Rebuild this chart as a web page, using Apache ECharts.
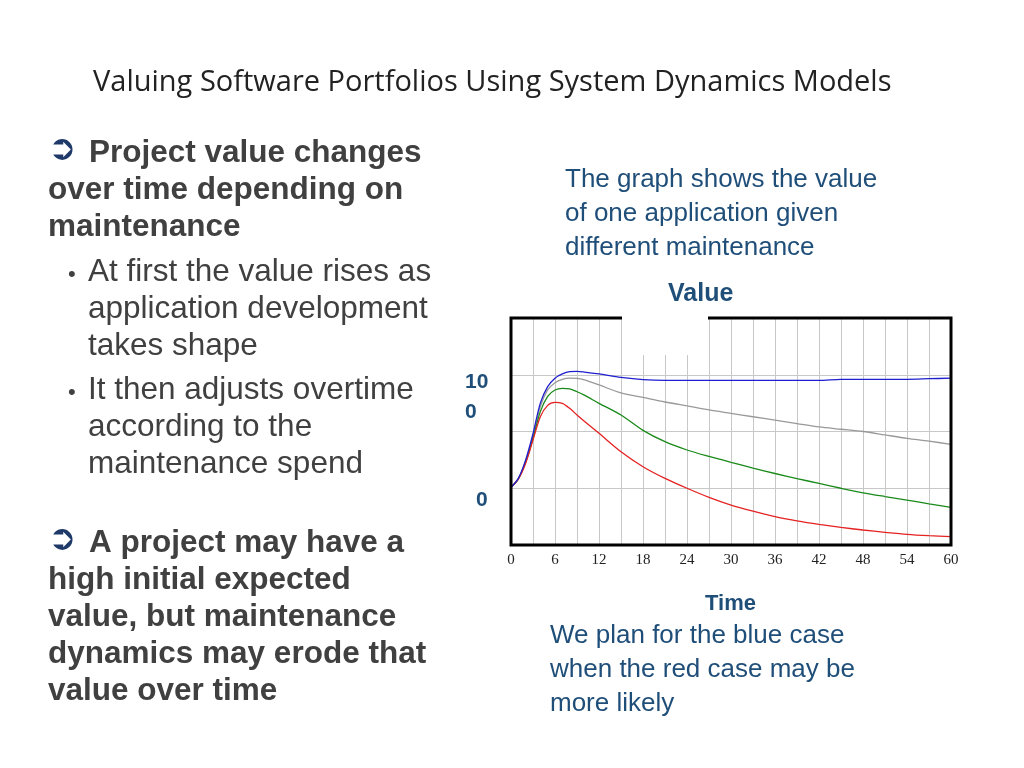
<!DOCTYPE html>
<html>
<head>
<meta charset="utf-8">
<script src="https://cdn.jsdelivr.net/npm/echarts@6/dist/echarts.min.js"></script>
<style>html,body{margin:0;padding:0;background:#fff}#c{width:1024px;height:768px}</style>
</head>
<body>
<div id="c"></div>
<script>
// time (months) and value readings
const times = [0,1,2,3,4,5,6,7,8,9,10,12,15,18,21,24,27,30,33,36,39,42,45,48,51,54,57,60];
const blueVals  = [50.8,58.7,75,98,125,139.5,147,150.7,152.7,153,152.4,150.7,147.7,145.7,145,145,145,145,145,145,145,145,146,146,146,146,146.5,147];
const grayVals  = [50.8,58.5,74,95.5,122,136.6,143,146,147,146.8,145.5,141,134,130,126,122.5,119,116,113,110,107,104,102,100,97,94,91.5,88.7];
const greenVals = [50.8,58.3,73,94,117.5,131,136.6,138,137.5,135,132,124.8,114.5,101,91,83.7,78,72.8,67.8,63,58.5,54.3,50,46,42.7,39.6,36.3,33.2];
const redVals   = [50.8,58,72,92.5,113,123,125.7,124.8,120.4,114.5,109,98.4,82.2,69,58.7,50,42,35.2,29.8,25,21.3,18.2,15.5,13.2,11.2,9.4,8.2,7.3];

const pair = v => times.map((t, i) => [t, v[i]]);
const mk = (name, color, v) => ({
  name, type: 'line', data: pair(v), smooth: 0.3, showSymbol: false,
  lineStyle: { color, width: 1.3 }, itemStyle: { color }
});

const chart = echarts.init(document.getElementById('c'));
const txt = (x, y, text, style) => ({ type: 'text', left: x, top: y, style: Object.assign({ text }, style) });
const bodyFont = { fontFamily: 'Liberation Sans, Arial', fill: '#404040' };
const leftBold = Object.assign({ fontSize: 31.5, fontWeight: 'bold', lineHeight: 37 }, bodyFont);
const leftReg = Object.assign({ fontSize: 31.5, lineHeight: 37 }, bodyFont);
const blueText = { fontFamily: 'Liberation Sans, Arial', fontSize: 26, fill: '#1f4e79', lineHeight: 34 };
const arrow = { fontFamily: 'DejaVu Sans', fontSize: 34, fill: '#1f3a68' };

chart.setOption({
  animation: false,
  grid: { left: 511, right: 73, top: 318, bottom: 223, show: true, borderColor: '#000', borderWidth: 3, z: 10 },
  xAxis: {
    type: 'value', min: 0, max: 60, interval: 3,
    axisLine: { show: false }, axisTick: { show: false },
    splitLine: { lineStyle: { color: '#c8c8c8' } },
    axisLabel: { fontFamily: 'Liberation Serif, Times New Roman', fontSize: 15, color: '#222', margin: 8,
      formatter: v => (v % 6 === 0 ? v : '') }
  },
  yAxis: {
    type: 'value', min: 0, max: 200, interval: 50,
    axisLine: { show: false }, axisTick: { show: false }, axisLabel: { show: false },
    splitLine: { lineStyle: { color: '#c8c8c8' } }
  },
  series: [mk('gray', '#999999', grayVals), mk('green', '#1a8a1a', greenVals),
           mk('red', '#e52222', redVals), mk('blue', '#1f1fd0', blueVals)],
  graphic: [
    { type: 'rect', shape: { x: 622, y: 305, width: 86, height: 50 }, style: { fill: '#fff' }, z: 100 },
    txt(93, 68, 'Valuing Software Portfolios Using System Dynamics Models',
      { fontFamily: 'Open Sans, Noto Sans', fontSize: 29, fill: '#222' }),
    txt(48, 133, '➲', arrow),
    txt(89, 135, 'Project value changes', leftBold),
    txt(48, 172, 'over time depending on\nmaintenance', leftBold),
    txt(68, 256, '•', Object.assign({}, leftReg, { fontSize: 22 })),
    txt(88, 254, 'At first the value rises as\napplication development\ntakes shape', leftReg),
    txt(68, 374, '•', Object.assign({}, leftReg, { fontSize: 22 })),
    txt(88, 372, 'It then adjusts overtime\naccording to the\nmaintenance spend', leftReg),
    txt(48, 523, '➲', arrow),
    txt(89, 525, 'A project may have a', leftBold),
    txt(48, 562, 'high initial expected\nvalue, but maintenance\ndynamics may erode that\nvalue over time', leftBold),
    txt(565, 163, 'The graph shows the value\nof one application given\ndifferent maintenance', blueText),
    txt(668, 282, 'Value', { fontFamily: 'Liberation Sans, Arial', fontSize: 25, fontWeight: 'bold', fill: '#1f4e79' }),
    txt(465, 367, '10\n0', { fontFamily: 'Liberation Sans, Arial', fontSize: 21, fontWeight: 'bold', fill: '#1f4e79', lineHeight: 30 }),
    txt(476, 490, '0', { fontFamily: 'Liberation Sans, Arial', fontSize: 21, fontWeight: 'bold', fill: '#1f4e79' }),
    txt(705, 593, 'Time', { fontFamily: 'Liberation Sans, Arial', fontSize: 22, fontWeight: 'bold', fill: '#1f4e79' }),
    txt(550, 619, 'We plan for the blue case\nwhen the red case may be\nmore likely', blueText)
  ]
});
</script>
</body>
</html>
